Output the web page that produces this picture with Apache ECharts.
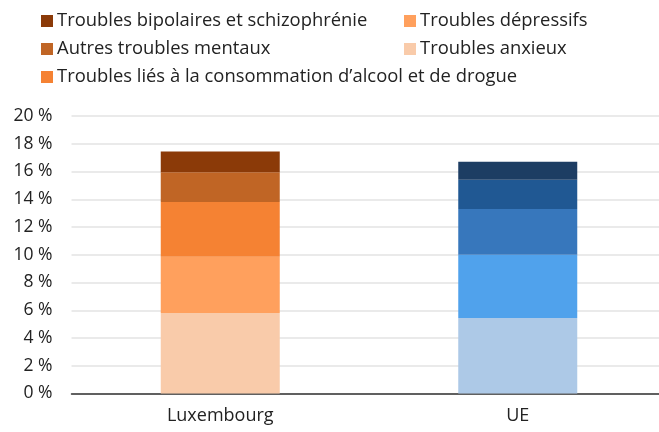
<!DOCTYPE html>
<html>
<head>
<meta charset="utf-8">
<script src="https://cdn.jsdelivr.net/npm/echarts@6/dist/echarts.min.js"></script>
<style>
  html, body { margin: 0; padding: 0; background: #fff; }
  #chart { width: 659px; height: 432px; }
</style>
</head>
<body>
<div id="chart"></div>
<script>
// pays / zones
const categories = ['Luxembourg', 'UE']
// séries, de bas en haut de la pile
const seriesNames = [
    'Troubles anxieux',
    'Troubles dépressifs',
    'Troubles liés à la consommation d\u2019alcool et de drogue',
    'Autres troubles mentaux',
    'Troubles bipolaires et schizophrénie'
]
const anxieux = [5.8, 5.45]
const depressifs = [4.05, 4.55]
const alcoolDrogue = [3.95, 3.3]
const autres = [2.15, 2.1]
const bipolaires = [1.5, 1.3]
const yTicks = [0, 2, 4, 6, 8, 10, 12, 14, 16, 18, 20]

const orangeColors = ['#F9CBAA', '#FFA05D', '#F58233', '#C06525', '#8B3A08']
const blueColors = ['#ADC9E7', '#50A2EC', '#3777BC', '#205893', '#1D3D63']

const values = [anxieux, depressifs, alcoolDrogue, autres, bipolaires]
const font = '"Open Sans", "Noto Sans", sans-serif'

const series = seriesNames.map((name, i) => ({
    name: name,
    type: 'bar',
    stack: 'total',
    barWidth: 119,
    itemStyle: { color: orangeColors[i] },
    data: values[i].map((v, j) => ({
        value: v,
        itemStyle: { color: j === 0 ? orangeColors[i] : blueColors[i] }
    }))
}))

const legendText = { fontFamily: font, fontSize: 18.4, color: '#222', padding: [0, 0, 0, -1] }

const option = {
    animation: false,
    legend: [
        {
            orient: 'vertical',
            left: 36,
            top: 7,
            itemWidth: 12,
            itemHeight: 12,
            itemGap: 10,
            icon: 'rect',
            textStyle: legendText,
            data: [seriesNames[4], seriesNames[3], seriesNames[2]]
        },
        {
            orient: 'vertical',
            left: 399,
            top: 7,
            itemWidth: 12,
            itemHeight: 12,
            itemGap: 10,
            icon: 'rect',
            textStyle: legendText,
            data: [seriesNames[1], seriesNames[0]]
        }
    ],
    grid: {
        left: 71.5,
        top: 116,
        width: 595,
        height: 277.5,
        containLabel: false,
        outerBoundsMode: 'none'
    },
    xAxis: {
        type: 'category',
        data: categories,
        axisTick: { show: false },
        axisLine: { lineStyle: { color: '#333', width: 1.5 } },
        axisLabel: { fontFamily: font, fontSize: 18, color: '#222', margin: 13 }
    },
    yAxis: {
        type: 'value',
        min: 0,
        max: yTicks[yTicks.length - 1],
        interval: 2,
        axisLine: { show: false },
        axisTick: { show: false },
        splitLine: { lineStyle: { color: '#E3E3E3', width: 1.5 } },
        axisLabel: {
            fontFamily: font,
            fontSize: 17.5,
            color: '#222',
            margin: 19,
            formatter: (v) => v + ' %'
        }
    },
    series: series
}

const chart = echarts.init(document.getElementById('chart'))
chart.setOption(option)
</script>
</body>
</html>
